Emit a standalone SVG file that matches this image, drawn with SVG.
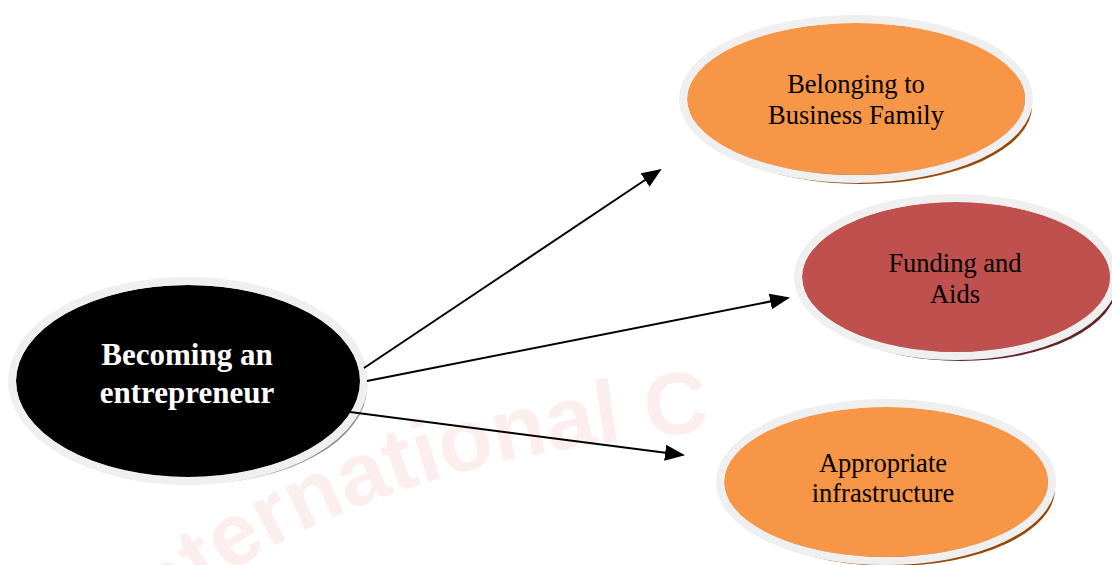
<svg xmlns="http://www.w3.org/2000/svg" width="1112" height="565" viewBox="0 0 1112 565">
<defs>
<style>
.ring{fill:none;stroke:#efefef;stroke-width:8}
.lbl{font-family:"Liberation Serif","Times New Roman",serif;font-size:26.5px;fill:#000;text-anchor:middle}
.main{font-family:"Liberation Serif","Times New Roman",serif;font-size:31px;font-weight:bold;fill:#fff;text-anchor:middle}
.conn{stroke:#000;stroke-width:2;fill:none;marker-end:url(#ah)}
.wm{font-family:"Liberation Sans",Arial,sans-serif;font-size:88px;font-weight:bold;fill:#fdeeee}
</style>
<marker id="ah" markerWidth="10" markerHeight="8" refX="9" refY="4" orient="auto" markerUnits="strokeWidth">
<path d="M0,0 L10,4 L0,8 Z" fill="#000"/>
</marker>
<path id="wmp" d="M90,700 Q300,430 850,425"/>
</defs>
<rect width="1112" height="565" fill="#fff"/>
<text class="wm"><textPath href="#wmp" startOffset="80">International C</textPath></text>
<g id="n-center">
<ellipse cx="193" cy="387" rx="174" ry="97" fill="#8c8c8c"/>
<ellipse cx="188" cy="381" rx="172" ry="96" fill="#000"/>
<ellipse class="ring" cx="188" cy="381" rx="176" ry="100"/>
<text class="main" x="187" y="365">Becoming an</text>
<text class="main" x="187" y="403">entrepreneur</text>
</g>
<g id="n-family">
<ellipse cx="861" cy="106" rx="171" ry="78" fill="#984807"/>
<ellipse cx="856" cy="99" rx="169" ry="76" fill="#f79646"/>
<ellipse class="ring" cx="856" cy="99" rx="173" ry="80"/>
<text class="lbl" x="856" y="93">Belonging to</text>
<text class="lbl" x="856" y="124">Business Family</text>
</g>
<g id="n-funding">
<ellipse cx="961" cy="284" rx="156" ry="77" fill="#632523"/>
<ellipse cx="956" cy="277" rx="154" ry="75" fill="#c0504d"/>
<ellipse class="ring" cx="956" cy="277" rx="158" ry="79"/>
<text class="lbl" x="955" y="272">Funding and</text>
<text class="lbl" x="955" y="303">Aids</text>
</g>
<g id="n-infra">
<ellipse cx="891" cy="489" rx="164" ry="77" fill="#984807"/>
<ellipse cx="886" cy="482" rx="162" ry="75" fill="#f79646"/>
<ellipse class="ring" cx="886" cy="482" rx="166" ry="79"/>
<text class="lbl" x="883" y="472">Appropriate</text>
<text class="lbl" x="883" y="502">infrastructure</text>
</g>
<g id="connectors">
<line class="conn" x1="364" y1="368" x2="660" y2="170"/>
<line class="conn" x1="367" y1="381" x2="788" y2="298"/>
<line class="conn" x1="350" y1="412" x2="683" y2="455"/>
</g>
</svg>
